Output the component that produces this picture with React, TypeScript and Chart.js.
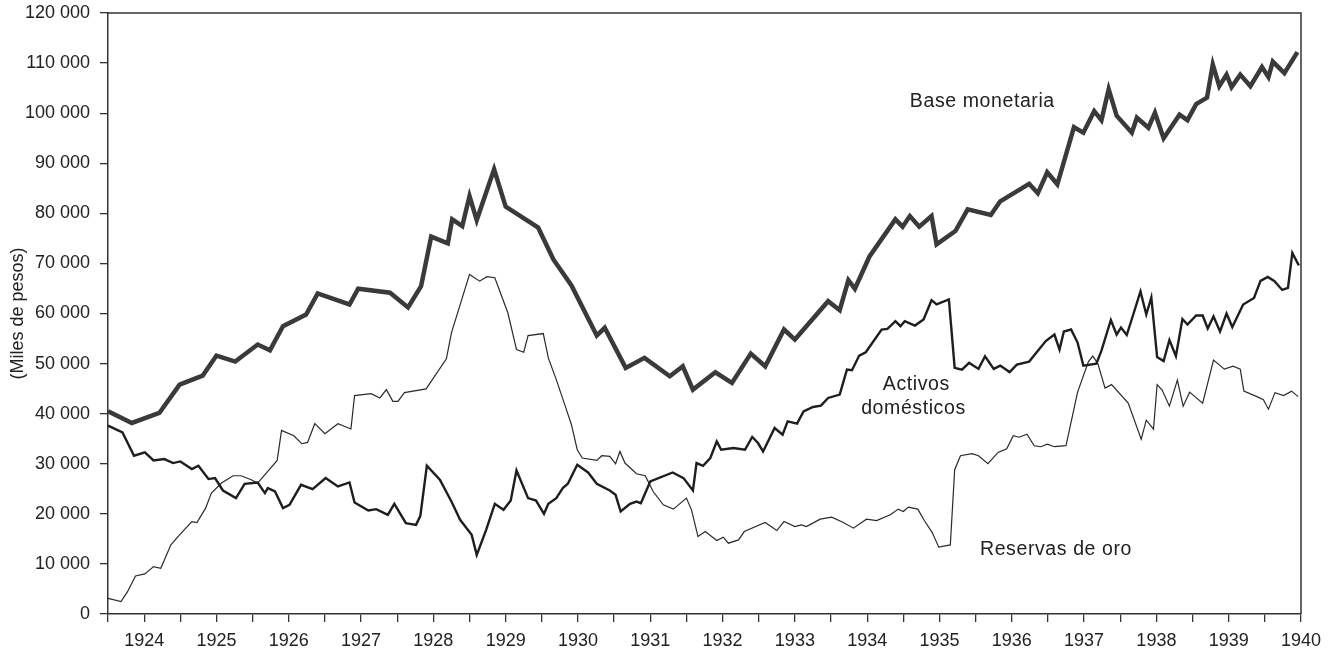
import React, { useEffect, useRef } from 'react';
import { Chart, registerables } from 'chart.js';

Chart.register(...registerables);

// ---- Data (years as decimal dates, values in miles de pesos) ----
const baseYears = [
  1923.5, 1923.83, 1924.21, 1924.49, 1924.81, 1925.0, 1925.26, 1925.57, 1925.74, 1925.92,
  1926.24, 1926.4, 1926.84, 1926.96, 1927.4, 1927.65, 1927.83, 1927.97, 1928.2, 1928.26,
  1928.4, 1928.5, 1928.6, 1928.84, 1929.0, 1929.45, 1929.66, 1929.91, 1930.26, 1930.37,
  1930.66, 1930.92, 1931.27, 1931.45, 1931.59, 1931.9, 1932.13, 1932.39, 1932.59, 1932.85,
  1933.0, 1933.46, 1933.62, 1933.74, 1933.83, 1934.03, 1934.39, 1934.49, 1934.59, 1934.72,
  1934.89, 1934.96, 1935.22, 1935.39, 1935.71, 1935.84, 1936.24, 1936.36, 1936.49, 1936.63,
  1936.86, 1936.99, 1937.14, 1937.24, 1937.34, 1937.45, 1937.66, 1937.73, 1937.89, 1937.98,
  1938.1, 1938.32, 1938.43, 1938.55, 1938.7, 1938.78, 1938.87, 1938.97, 1939.04, 1939.16,
  1939.3, 1939.46, 1939.55, 1939.61, 1939.77, 1939.95,
];
const baseValues = [
  40460, 38140, 40140, 45800, 47600, 51600, 50400, 53800, 52660, 57460,
  59800, 64000, 61800, 64940, 64140, 61200, 65460, 75340, 74000, 78800,
  77460, 83460, 78660, 88800, 81340, 77140, 70800, 65600, 55600, 57140,
  49140, 51140, 47460, 49460, 44800, 48260, 46140, 52000, 49460, 56800,
  54800, 62460, 60660, 66660, 64940, 71340, 78800, 77340, 79460, 77340,
  79460, 73800, 76460, 80800, 79660, 82400, 85900, 84000, 88200, 85800,
  97200, 96100, 100400, 98600, 104800, 99500, 96100, 99100, 97100, 100100,
  95000, 99700, 98600, 101800, 103100, 109700, 105400, 107700, 105200, 107700,
  105400, 109200, 107200, 110300, 108000, 112200,
];

const activosYears = [
  1923.5, 1923.7, 1923.86, 1924.01, 1924.13, 1924.28, 1924.4, 1924.5, 1924.66, 1924.75,
  1924.89, 1924.98, 1925.09, 1925.27, 1925.39, 1925.57, 1925.67, 1925.71, 1925.81, 1925.92,
  1926.01, 1926.17, 1926.33, 1926.51, 1926.68, 1926.84, 1926.91, 1927.1, 1927.21, 1927.37,
  1927.46, 1927.62, 1927.76, 1927.82, 1927.91, 1928.09, 1928.25, 1928.37, 1928.53, 1928.6,
  1928.73, 1928.85, 1928.97, 1929.07, 1929.15, 1929.31, 1929.42, 1929.53, 1929.59, 1929.7,
  1929.79, 1929.86, 1929.99, 1930.14, 1930.26, 1930.44, 1930.52, 1930.59, 1930.72, 1930.81,
  1930.87, 1931.0, 1931.31, 1931.46, 1931.59, 1931.64, 1931.73, 1931.83, 1931.92, 1931.98,
  1932.15, 1932.31, 1932.41, 1932.49, 1932.56, 1932.72, 1932.83, 1932.9, 1933.03, 1933.12,
  1933.25, 1933.36, 1933.46, 1933.62, 1933.72, 1933.79, 1933.89, 1933.98, 1934.2, 1934.28,
  1934.39, 1934.46, 1934.52, 1934.66, 1934.78, 1934.89, 1934.96, 1935.13, 1935.21, 1935.31,
  1935.41, 1935.54, 1935.63, 1935.75, 1935.84, 1935.97, 1936.07, 1936.24, 1936.47, 1936.59,
  1936.66, 1936.72, 1936.82, 1936.91, 1936.99, 1937.17, 1937.24, 1937.37, 1937.45, 1937.51,
  1937.59, 1937.68, 1937.78, 1937.86, 1937.93, 1938.01, 1938.1, 1938.18, 1938.27, 1938.36,
  1938.43, 1938.55, 1938.64, 1938.71, 1938.79, 1938.88, 1938.97, 1939.05, 1939.2, 1939.35,
  1939.44, 1939.54, 1939.63, 1939.74, 1939.82, 1939.88, 1939.97,
];
const activosValues = [
  37600, 36260, 31600, 32260, 30660, 30940, 30140, 30460, 28940, 29600,
  26940, 27140, 24660, 23140, 26000, 26260, 24140, 25140, 24460, 21140,
  21800, 25800, 24940, 27140, 25460, 26260, 22260, 20660, 20940, 19800,
  22000, 18140, 17800, 19600, 29600, 26800, 22460, 18800, 15800, 11800,
  16800, 22000, 20800, 22660, 28660, 23140, 22660, 20000, 22000, 23140,
  25140, 26000, 29800, 28260, 26000, 24660, 23800, 20460, 22000, 22460,
  22140, 26460, 28260, 27140, 24660, 30140, 29600, 31140, 34460, 32800,
  33140, 32800, 35340, 34140, 32460, 37140, 35800, 38460, 38000, 40460,
  41340, 41600, 43140, 43800, 48800, 48660, 51600, 52260, 56800, 56940,
  58460, 57460, 58460, 57600, 58800, 62660, 61800, 62800, 49140, 48800,
  50140, 48940, 51460, 48940, 49600, 48300, 49800, 50400, 54500, 55800,
  52800, 56400, 56800, 54200, 49600, 50000, 52600, 58700, 55800, 57200,
  55700, 59800, 64400, 59800, 63200, 51300, 50500, 54700, 51500, 58900,
  57800, 59600, 59600, 57000, 59400, 56400, 60000, 57300, 61800, 63100,
  66500, 67300, 66500, 64700, 65100, 72100, 69600,
];

const reservasYears = [
  1923.5, 1923.68, 1923.77, 1923.88, 1924.01, 1924.13, 1924.23, 1924.37, 1924.49, 1924.66,
  1924.73, 1924.85, 1924.93, 1925.07, 1925.23, 1925.34, 1925.48, 1925.57, 1925.84, 1925.9,
  1926.07, 1926.18, 1926.26, 1926.36, 1926.5, 1926.68, 1926.86, 1926.91, 1927.14, 1927.26,
  1927.35, 1927.44, 1927.51, 1927.6, 1927.9, 1928.18, 1928.25, 1928.5, 1928.64, 1928.74,
  1928.85, 1929.03, 1929.15, 1929.25, 1929.31, 1929.52, 1929.59, 1929.7, 1929.84, 1929.91,
  1929.99, 1930.06, 1930.26, 1930.33, 1930.44, 1930.52, 1930.58, 1930.65, 1930.81, 1930.93,
  1931.04, 1931.18, 1931.32, 1931.5, 1931.57, 1931.66, 1931.76, 1931.92, 1932.01, 1932.08,
  1932.22, 1932.3, 1932.59, 1932.75, 1932.85, 1933.0, 1933.09, 1933.16, 1933.35, 1933.51,
  1933.67, 1933.81, 1933.99, 1934.13, 1934.32, 1934.43, 1934.5, 1934.57, 1934.7, 1934.79,
  1934.9, 1934.99, 1935.15, 1935.21, 1935.29, 1935.45, 1935.54, 1935.67, 1935.81, 1935.93,
  1936.02, 1936.1, 1936.21, 1936.31, 1936.4, 1936.49, 1936.59, 1936.75, 1936.91, 1937.06,
  1937.12, 1937.19, 1937.29, 1937.38, 1937.61, 1937.79, 1937.86, 1937.96, 1938.01, 1938.08,
  1938.18, 1938.29, 1938.37, 1938.46, 1938.64, 1938.79, 1938.94, 1939.06, 1939.16, 1939.21,
  1939.39, 1939.48, 1939.55, 1939.64, 1939.76, 1939.87, 1939.96,
];
const reservasValues = [
  3140, 2460, 4460, 7600, 8000, 9460, 9140, 13800, 15800, 18460,
  18260, 21140, 24140, 26140, 27600, 27600, 26800, 26140, 30660, 36660,
  35600, 34000, 34260, 38000, 36000, 38000, 36940, 43600, 44000, 43140,
  44800, 42460, 42460, 44200, 44940, 50940, 56140, 67800, 66460, 67340,
  67140, 60140, 52800, 52260, 55600, 56000, 51140, 46800, 40800, 37800,
  32800, 31140, 30660, 31600, 31460, 30000, 32460, 30140, 28000, 27600,
  24460, 21800, 20940, 23140, 20800, 15460, 16460, 14660, 15340, 14140,
  14800, 16460, 18260, 16660, 18460, 17460, 17800, 17460, 18940, 19340,
  18260, 17140, 18940, 18660, 19800, 20940, 20460, 21340, 20940, 18660,
  16260, 13340, 13800, 28800, 31600, 32000, 31600, 30000, 32260, 33000,
  35600, 35300, 35900, 33600, 33400, 33900, 33400, 33600, 44300, 50400,
  51500, 50000, 45100, 45800, 42100, 34900, 38700, 36900, 45800, 44700,
  41500, 46700, 41500, 44300, 42100, 50700, 48900, 49500, 48900, 44500,
  43400, 42800, 40900, 44200, 43600, 44500, 43400,
];

const yTitle = '(Miles de pesos)';
const seriesLabels = ['Base monetaria', 'Activos domésticos', 'Reservas de oro'];

// Text labels placed in data coordinates
const labelTexts = ['Base monetaria', 'Activos', 'domésticos', 'Reservas de oro'];
const labelYears = [1934.59, 1934.68, 1934.64, 1935.56];
const labelValues = [102250, 45700, 41100, 12900];
const labelAligns = ['left', 'center', 'center', 'left'];

const FONT = "'Liberation Sans', Arial, Helvetica, sans-serif";
const INK = '#2a2a2a';

const framePlugin = {
  id: 'frame',
  afterDraw(chart: any) {
    const { ctx, chartArea: a } = chart;
    ctx.save();
    ctx.strokeStyle = '#333';
    ctx.lineWidth = 1.5;
    ctx.beginPath();
    ctx.moveTo(a.left, a.top);
    ctx.lineTo(a.right, a.top);
    ctx.lineTo(a.right, a.bottom);
    ctx.stroke();
    ctx.restore();
  },
};

const textPlugin = {
  id: 'seriesText',
  afterDraw(chart: any) {
    const { ctx, scales } = chart;
    ctx.save();
    ctx.fillStyle = '#222';
    ctx.font = `19.5px ${FONT}`;
    try { (ctx as any).letterSpacing = '0.6px'; } catch (e) {}
    ctx.textBaseline = 'middle';
    labelTexts.forEach((t, i) => {
      ctx.textAlign = labelAligns[i];
      ctx.fillText(t, scales.x.getPixelForValue(labelYears[i]), scales.y.getPixelForValue(labelValues[i]));
    });
    ctx.restore();
  },
};

export default function App() {
  const ref = useRef<HTMLCanvasElement>(null);
  useEffect(() => {
    document.body.style.margin = '0';
    const pts = (xs: number[], ys: number[]) => xs.map((x, i) => ({ x, y: ys[i] }));
    const chart = new Chart(ref.current as HTMLCanvasElement, {
      type: 'line',
      data: {
        datasets: [
          {
            label: seriesLabels[0],
            data: pts(baseYears, baseValues),
            borderColor: '#3a3a3a',
            borderWidth: 4.5,
            pointRadius: 0,
            tension: 0,
          },
          {
            label: seriesLabels[1],
            data: pts(activosYears, activosValues),
            borderColor: '#1e1e1e',
            borderWidth: 2.4,
            pointRadius: 0,
            tension: 0,
          },
          {
            label: seriesLabels[2],
            data: pts(reservasYears, reservasValues),
            borderColor: INK,
            borderWidth: 1.2,
            pointRadius: 0,
            tension: 0,
          },
        ],
      },
      options: {
        animation: false,
        responsive: true,
        maintainAspectRatio: false,
        devicePixelRatio: 1,
        layout: { padding: { top: 13, right: 30, left: 0, bottom: 0 } },
        plugins: { legend: { display: false }, tooltip: { enabled: false } },
        scales: {
          x: {
            type: 'linear',
            min: 1923.5,
            max: 1940,
            afterFit: (s: any) => { s.height = 43; s.paddingLeft = 0; s.paddingRight = 0; },
            ticks: {
              stepSize: 0.5,
              autoSkip: false,
              maxRotation: 0,
              minRotation: 0,
              padding: 8,
              color: '#222',
              font: { family: FONT, size: 18 },
              callback: (v: any) => (Number.isInteger(v) ? String(v) : ''),
            },
            grid: { drawOnChartArea: false, drawTicks: true, tickLength: 8, color: '#333', lineWidth: 1.3 },
            border: { display: true, color: '#333', width: 1.5 },
          },
          y: {
            min: 0,
            max: 120000,
            afterFit: (s: any) => { s.width = 108; s.paddingTop = 0; s.paddingBottom = 0; },
            ticks: {
              stepSize: 10000,
              padding: 10,
              color: '#222',
              font: { family: FONT, size: 18 },
              callback: (v: any) => (v === 0 ? '0' : `${v / 1000} 000`),
            },
            title: {
              display: true,
              text: yTitle,
              color: '#222',
              font: { family: FONT, size: 18 },
              padding: { top: 7, bottom: 0 },
            },
            grid: { drawOnChartArea: false, drawTicks: true, tickLength: 8, color: '#333', lineWidth: 1.3 },
            border: { display: true, color: '#333', width: 1.5 },
          },
        },
      } as any,
      plugins: [framePlugin, textPlugin],
    });
    return () => chart.destroy();
  }, []);
  return (
    <div style={{ position: 'fixed', left: 0, top: 0, width: 1331, height: 657, background: '#fff' }}>
      <canvas ref={ref} />
    </div>
  );
}
